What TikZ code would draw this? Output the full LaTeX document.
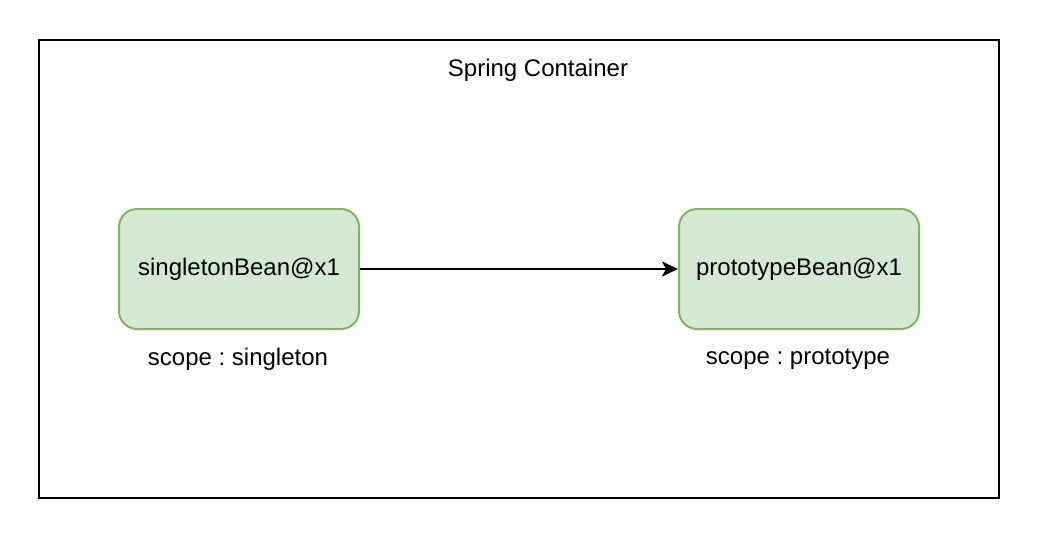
\documentclass[tikz,border=0pt]{standalone}
\usepackage{fontspec}
\setmainfont{Liberation Sans}
\usetikzlibrary{arrows.meta}
\definecolor{beanfill}{HTML}{D5E8D4}
\definecolor{beanline}{HTML}{82B366}
\frenchspacing
\begin{document}
\begin{tikzpicture}[x=1pt,y=-1pt,
  bean/.style={draw=beanline, fill=beanfill, line width=2pt, rounded corners=18pt,
    minimum width=240pt, minimum height=120pt, inner sep=0pt,
    font=\fontsize{24}{28}\selectfont},
  lbl/.style={inner sep=0pt, font=\fontsize{24}{28}\selectfont},
  conn/.style={line width=2pt, -{Stealth[length=16pt,width=15pt,inset=4pt]}}]
\useasboundingbox (0,0) rectangle (1038,536);
\node[draw, line width=2pt, minimum width=960pt, minimum height=458pt, inner sep=0pt] (container) at (519,269) {};
\node[lbl] (title) at (538,70) {Spring Container};
\node[bean] (single) at (239,269) {\raisebox{-1.5pt}{singletonBean@x1}};
\node[bean] (proto) at (799,269) {\raisebox{-1.5pt}{prototypeBean@x1}};
\node[lbl] (slabel) at (238,359) {scope : singleton};
\node[lbl] (plabel) at (798,359) {scope : prototype};
\draw[conn] (single) -- (proto);
\end{tikzpicture}
\end{document}
